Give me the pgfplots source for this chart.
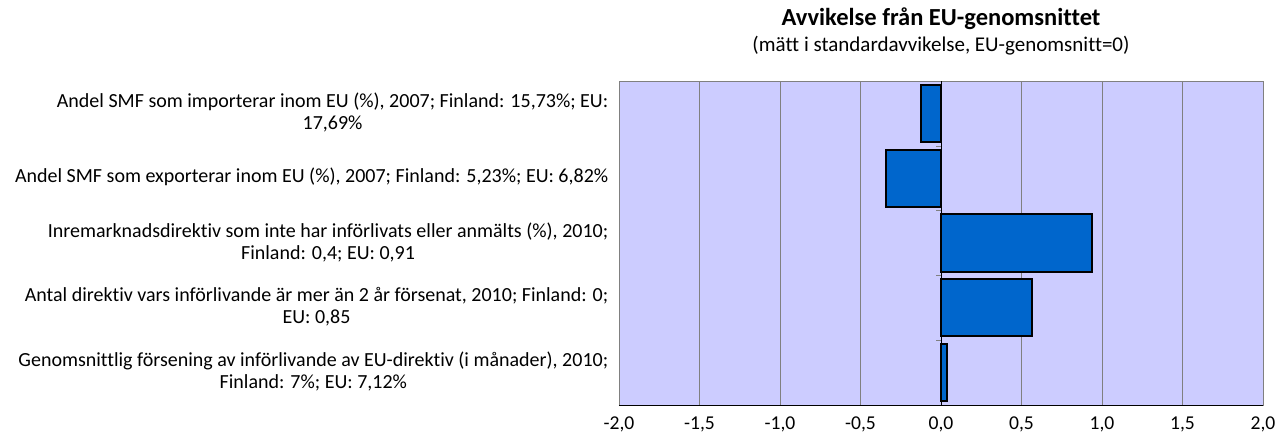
\documentclass[border=0pt]{standalone}
\usepackage{fontspec}
\setmainfont{Carlito}[Ligatures=NoCommon]
\usepackage{pgfplots}
\pgfplotsset{compat=1.18}
\usetikzlibrary{calc}
\definecolor{bgc}{HTML}{CCCCFF}
\definecolor{barc}{HTML}{0066CC}
\definecolor{gridc}{HTML}{808080}
\begin{document}
\begin{tikzpicture}
\begin{axis}[
  scale only axis,
  width=644bp, height=324bp,
  xmin=-2, xmax=2, ymin=0.5, ymax=5.5,
  y dir=reverse,
  xbar, bar width=0.88,
  axis background/.style={fill=bgc},
  axis line style={draw=gridc, line width=0.6pt},
  xtick={-2,-1.5,-1,-0.5,0,0.5,1,1.5,2},
  xmajorgrids, major grid style={draw=gridc, line width=0.6pt},
  xtick style={draw=none}, ytick style={draw=none},
  ytick={1,2,3,4,5},
  yticklabels={{Andel SMF som importerar inom EU (\%), 2007; Finland: 15,73\%; EU:\\17,69\%},
    {Andel SMF som exporterar inom EU (\%), 2007; Finland: 5,23\%; EU: 6,82\%},
    {Inremarknadsdirektiv som inte har införlivats eller anmälts (\%), 2010;\\Finland: 0,4; EU: 0,91},
    {Antal direktiv vars införlivande är mer än 2 år försenat, 2010; Finland: 0;\\EU: 0,85},
    {Genomsnittlig försening av införlivande av EU-direktiv (i månader), 2010;\\Finland: 7\%; EU: 7,12\%}},
  yticklabel style={align=center, font=\fontsize{20bp}{22bp}\selectfont, xshift=-3bp, yshift=1bp},
  xticklabel style={font=\fontsize{19.6bp}{22bp}\selectfont, yshift=-8bp,
    /pgf/number format/fixed, /pgf/number format/fixed zerofill, /pgf/number format/precision=1,
    /pgf/number format/use comma, /pgf/number format/assume math mode=true},
]
\addplot[fill=barc, draw=black, line width=2pt] coordinates {(-0.124,1) (-0.343,2) (0.938,3) (0.563,4) (0.04,5)};
\draw[black, line width=0.8pt] (axis cs:0,0.5) -- (axis cs:0,5.5);
\draw[gridc, line width=0.6pt] (axis cs:0,0.5) -- ++(-5bp,0pt);
\draw[gridc, line width=0.6pt] (axis cs:0,1.5) -- ++(-5bp,0pt);
\draw[gridc, line width=0.6pt] (axis cs:0,2.5) -- ++(-5bp,0pt);
\draw[gridc, line width=0.6pt] (axis cs:0,3.5) -- ++(-5bp,0pt);
\draw[gridc, line width=0.6pt] (axis cs:0,4.5) -- ++(-5bp,0pt);
\draw[black, line width=0.8pt] (axis cs:-2,5.5) -- (axis cs:2,5.5);
\end{axis}
\node[font=\bfseries\fontsize{24.5bp}{28bp}\selectfont] at ($(current axis.north)+(0,62bp)$) {Avvikelse från EU-genomsnittet};
\node[font=\fontsize{21bp}{24bp}\selectfont] at ($(current axis.north)+(0,35bp)$) {(mätt i standardavvikelse, EU-genomsnitt=0)};
\pgfresetboundingbox
\path ($(current axis.south west)+(-619bp,-36bp)$) rectangle ($(current axis.north east)+(19bp,81bp)$);
\end{tikzpicture}
\end{document}
